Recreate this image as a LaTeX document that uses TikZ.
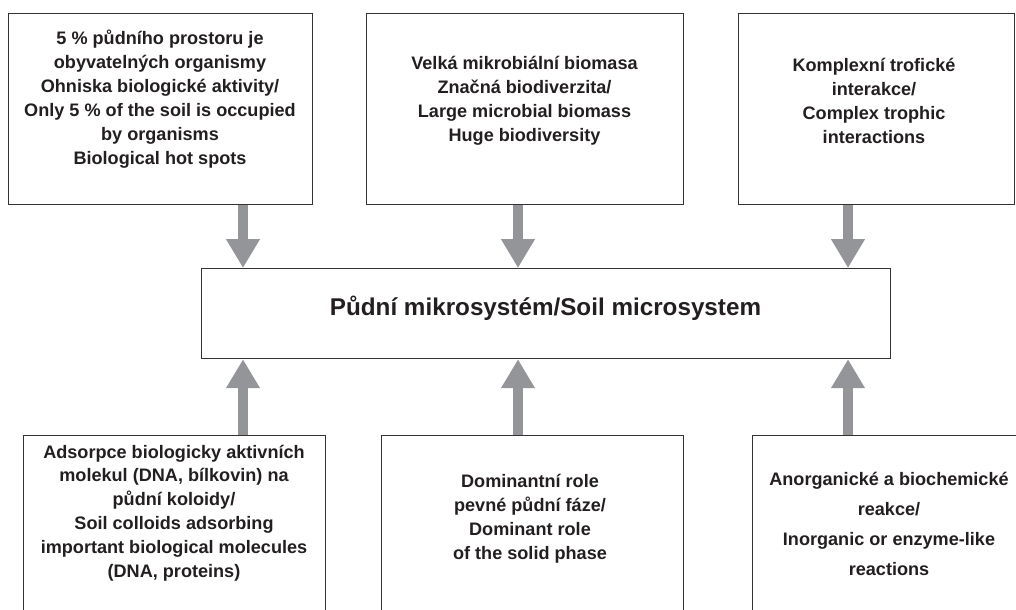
\documentclass[tikz,border=0pt]{standalone}
\usepackage{fontspec}
\setmainfont{Liberation Sans}
\usepackage{tikz}
\usetikzlibrary{arrows.meta}
\definecolor{arrowgray}{RGB}{148,149,152}
\definecolor{ink}{RGB}{35,31,32}
\tikzset{box/.style = {shape=rectangle,draw=black!80,line width=0.7pt,anchor=north west,inner sep=0pt}}
\tikzset{txt/.style = {align=center,inner sep=0pt,text=ink,font=\fontsize{10.3}{13.6}\selectfont\bfseries}}
\tikzset{title/.style = {inner sep=0pt,text=ink,font=\fontsize{13.8}{16}\selectfont\bfseries}}
\tikzset{flow/.style = {draw=arrowgray,line width=0.2cm,-{Triangle[length=0.58cm,width=0.64cm]}}}

\begin{document}
\begin{tikzpicture}[x=0.02cm,y=-0.02cm]
            \path[use as bounding box] (0,0) rectangle (1016,609);
            \clip (0,0) rectangle (1016,609);
            % boxes
            \node[box,minimum width=6.08cm,minimum height=3.82cm] (topA) at (8,13) {};
            \node[box,minimum width=6.34cm,minimum height=3.82cm] (topB) at (366,13) {};
            \node[box,minimum width=5.52cm,minimum height=3.82cm] (topC) at (738,13) {};
            \node[box,minimum width=13.78cm,minimum height=1.8cm] (mikro) at (201,268) {};
            \node[box,minimum width=6.04cm,minimum height=4cm] (botA) at (23,435) {};
            \node[box,minimum width=6.04cm,minimum height=4cm] (botB) at (381,435) {};
            \node[box,minimum width=5.48cm,minimum height=4cm] (botC) at (752,435) {};
            % texts
            \node[txt] (topAtxt) at (160,99) {5 \% půdního prostoru je\\obyvatelných organismy\\Ohniska biologické aktivity/\\Only 5 \% of the soil is occupied\\by organisms\\Biological hot spots};
            \node[txt] (topBtxt) at (524.5,101) {Velká mikrobiální biomasa\\Značná biodiverzita/\\Large microbial biomass\\Huge biodiversity};
            \node[txt] (topCtxt) at (874,101) {Komplexní trofické\\interakce/\\Complex trophic\\interactions};
            \node[title] (mikrotxt) at (545.5,308) {Půdní mikrosystém/Soil microsystem};
            \node[txt] (botAtxt) at (174,513) {Adsorpce biologicky aktivních\\molekul (DNA, bílkovin) na\\půdní koloidy/\\Soil colloids adsorbing\\important biological molecules\\(DNA, proteins)};
            \node[txt] (botBtxt) at (530,518.5) {Dominantní role\\pevné půdní fáze/\\Dominant role\\of the solid phase};
            \node[txt] (botCtxt) at (889,524) {Anorganické a biochemické\\[3.4pt]reakce/\\[3.4pt]Inorganic or enzyme-like\\[3.4pt]reactions};
            % arrows
            \coordinate (a1) at (243,0);
            \coordinate (a2) at (518,0);
            \coordinate (a3) at (848,0);
            \draw[flow] (topA.south -| a1) -- (mikro.north -| a1);
            \draw[flow] (topB.south -| a2) -- (mikro.north -| a2);
            \draw[flow] (topC.south -| a3) -- (mikro.north -| a3);
            \draw[flow] (botA.north -| a1) -- (mikro.south -| a1);
            \draw[flow] (botB.north -| a2) -- (mikro.south -| a2);
            \draw[flow] (botC.north -| a3) -- (mikro.south -| a3);
        \end{tikzpicture}
\end{document}
